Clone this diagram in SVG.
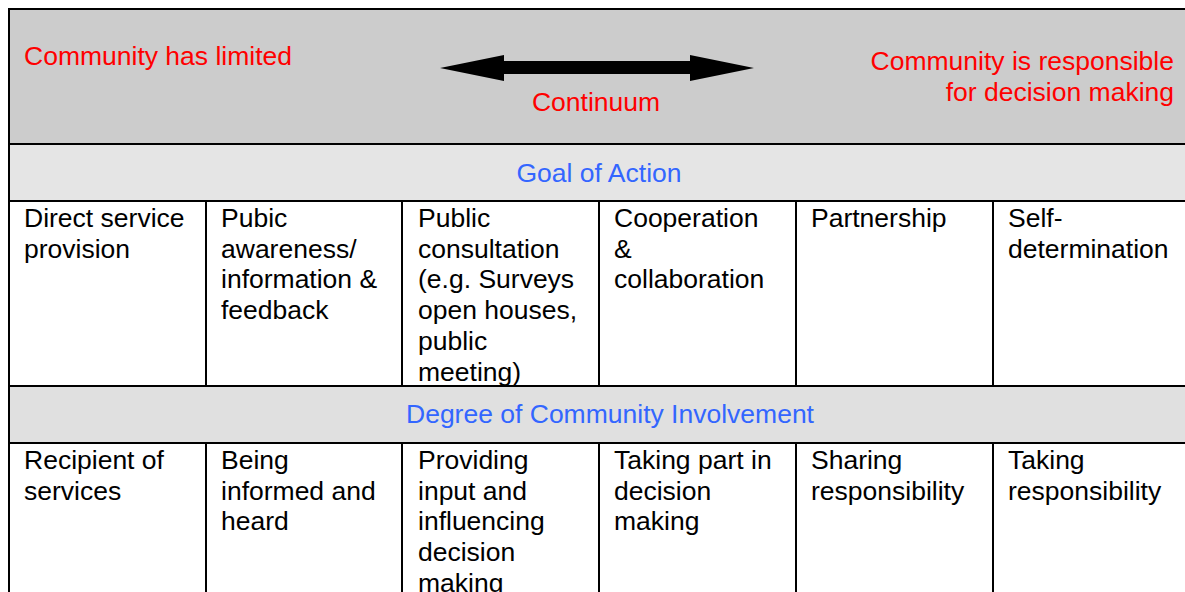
<svg xmlns="http://www.w3.org/2000/svg" width="1185" height="592" viewBox="0 0 1185 592">
<style>
.t{font-family:"Liberation Sans",Arial,sans-serif;font-size:26.5px;fill:#000}
.r{fill:#ff0000}
.b{fill:#3366ff}
.ln{stroke:#000;stroke-width:2;fill:none}
</style>
<rect x="0" y="0" width="1185" height="592" fill="#fff"/>
<g id="header">
<rect x="9" y="9" width="1176" height="135" fill="#cccccc"/>
<text class="t r" x="24" y="65">Community has limited</text>
<text class="t r" x="596" y="111" text-anchor="middle">Continuum</text>
<text class="t r" x="1174" y="70" text-anchor="end">Community is responsible</text>
<text class="t r" x="1174" y="101" text-anchor="end">for decision making</text>
</g>
<g id="connectors">
<polygon points="440,68 504,55 504,61 690,61 690,55 754,68 690,81 690,74 504,74 504,81" fill="#000"/>
</g>
<g id="goal-band">
<rect x="9" y="144" width="1176" height="57" fill="#e5e5e5"/>
<text class="t b" x="599" y="182" text-anchor="middle">Goal of Action</text>
</g>
<g id="degree-band">
<rect x="9" y="386" width="1176" height="57" fill="#e0e0e0"/>
<text class="t b" x="610" y="423" text-anchor="middle">Degree of Community Involvement</text>
</g>
<g id="grid">
<line class="ln" x1="9" y1="8" x2="9" y2="592"/>
<line class="ln" x1="8" y1="9" x2="1185" y2="9"/>
<line class="ln" x1="9" y1="144" x2="1185" y2="144"/>
<line class="ln" x1="9" y1="201" x2="1185" y2="201"/>
<line class="ln" x1="9" y1="386" x2="1185" y2="386"/>
<line class="ln" x1="9" y1="443" x2="1185" y2="443"/>
<g class="ln">
<line x1="206" y1="201" x2="206" y2="386"/><line x1="206" y1="443" x2="206" y2="592"/>
<line x1="402" y1="201" x2="402" y2="386"/><line x1="402" y1="443" x2="402" y2="592"/>
<line x1="599" y1="201" x2="599" y2="386"/><line x1="599" y1="443" x2="599" y2="592"/>
<line x1="796" y1="201" x2="796" y2="386"/><line x1="796" y1="443" x2="796" y2="592"/>
<line x1="993" y1="201" x2="993" y2="386"/><line x1="993" y1="443" x2="993" y2="592"/>
</g>
</g>
<g id="goal-1"><text class="t" x="24" y="227">Direct service<tspan x="24" dy="30.7">provision</tspan></text></g>
<g id="goal-2"><text class="t" x="221" y="227">Pubic<tspan x="221" dy="30.7">awareness/</tspan><tspan x="221" dy="30.7">information &amp;</tspan><tspan x="221" dy="30.7">feedback</tspan></text></g>
<g id="goal-3"><text class="t" x="418" y="227">Public<tspan x="418" dy="30.7">consultation</tspan><tspan x="418" dy="30.7">(e.g. Surveys</tspan><tspan x="418" dy="30.7">open houses,</tspan><tspan x="418" dy="30.7">public</tspan><tspan x="418" dy="30.7">meeting)</tspan></text></g>
<g id="goal-4"><text class="t" x="614" y="227">Cooperation<tspan x="614" dy="30.7">&amp;</tspan><tspan x="614" dy="30.7">collaboration</tspan></text></g>
<g id="goal-5"><text class="t" x="811" y="227">Partnership</text></g>
<g id="goal-6"><text class="t" x="1008" y="227">Self-<tspan x="1008" dy="30.7">determination</tspan></text></g>
<g id="deg-1"><text class="t" x="24" y="469">Recipient of<tspan x="24" dy="30.7">services</tspan></text></g>
<g id="deg-2"><text class="t" x="221" y="469">Being<tspan x="221" dy="30.7">informed and</tspan><tspan x="221" dy="30.7">heard</tspan></text></g>
<g id="deg-3"><text class="t" x="418" y="469">Providing<tspan x="418" dy="30.7">input and</tspan><tspan x="418" dy="30.7">influencing</tspan><tspan x="418" dy="30.7">decision</tspan><tspan x="418" dy="30.7">making</tspan></text></g>
<g id="deg-4"><text class="t" x="614" y="469">Taking part in<tspan x="614" dy="30.7">decision</tspan><tspan x="614" dy="30.7">making</tspan></text></g>
<g id="deg-5"><text class="t" x="811" y="469">Sharing<tspan x="811" dy="30.7">responsibility</tspan></text></g>
<g id="deg-6"><text class="t" x="1008" y="469">Taking<tspan x="1008" dy="30.7">responsibility</tspan></text></g>
</svg>
